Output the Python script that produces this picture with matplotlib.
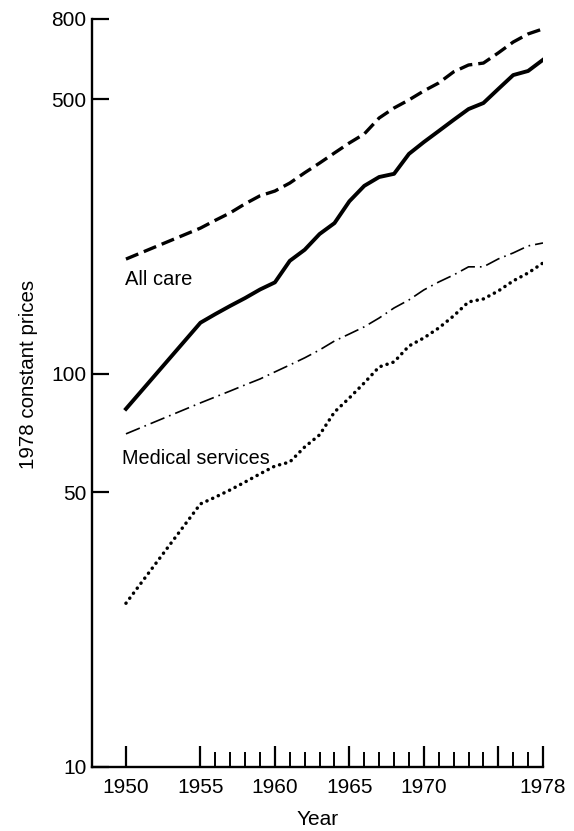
import matplotlib
matplotlib.use("Agg")
import matplotlib.pyplot as plt

plt.rcParams['font.family'] = ['Liberation Sans', 'DejaVu Sans']

years = [1950, 1955, 1956, 1957, 1958, 1959, 1960, 1961, 1962, 1963, 1964,
         1965, 1966, 1967, 1968, 1969, 1970, 1971, 1972, 1973, 1974, 1975,
         1976, 1977, 1978]

all_care_dashed = [196, 235, 246, 257, 271, 284, 292, 306, 325, 344, 365,
                   387, 408, 448, 475, 498, 525, 550, 587, 611, 618, 656,
                   699, 733, 755]
all_care_solid = [81.5, 135, 142, 149, 156, 164, 171, 194, 207, 227, 242,
                  275, 301, 317, 323, 363, 389, 415, 443, 472, 489, 531,
                  576, 590, 630]
medical_dashdot = [70.4, 84.4, 87.4, 90.5, 93.8, 97.1, 101.2, 105.4, 109.9,
                   115.1, 121.3, 126.4, 131.8, 138.8, 147.2, 154.3, 163.6,
                   171.4, 178.6, 187.3, 187.3, 196.2, 203.2, 211.7, 215.4]
medical_dotted = [26.1, 46.7, 48.6, 50.7, 53.1, 55.7, 58.3, 59.7, 65.2, 70.0,
                  80.0, 86.9, 94.9, 104.2, 107.3, 117.8, 123.5, 130.9, 140.5,
                  152.5, 155.2, 162.6, 172.5, 180.7, 191.6]

x_major = [1950, 1955, 1960, 1965, 1970, 1975, 1978]
x_labels = ['1950', '1955', '1960', '1965', '1970', '', '1978']
x_minor = [y for y in range(1956, 1978) if y % 5 != 0]
y_ticks = [10, 50, 100, 500, 800]
y_labels = ['10', '50', '100', '500', '800']

fig = plt.figure(figsize=(5.74, 8.31), dpi=100)
ax = fig.add_axes([92/574, 64/831, 451/574, 748/831])

ax.plot(years, all_care_dashed, color='black', lw=2.4, linestyle=(0, (4, 1.8)),
        dash_capstyle='butt')
ax.plot(years, all_care_solid, color='black', lw=2.8, solid_joinstyle='round')
ax.plot(years, medical_dashdot, color='black', lw=1.2,
        linestyle=(0, (9, 3, 1, 3)))
ax.plot(years, medical_dotted, color='black', lw=2.5,
        linestyle=(0, (0.05, 1.75)), dash_capstyle='round')

ax.set_yscale('log')
ax.set_ylim(10, 800)
ax.set_xlim(1947.72, 1978)

ax.set_yticks(y_ticks)
ax.set_yticklabels(y_labels)
ax.yaxis.set_minor_locator(matplotlib.ticker.NullLocator())
ax.set_xticks(x_major)
ax.set_xticklabels(x_labels)
ax.set_xticks(x_minor, minor=True)

ax.tick_params(axis='y', which='major', direction='in', length=12, width=1.6,
               labelsize=15, pad=4)
ax.tick_params(axis='x', which='major', direction='in', length=15, width=1.6,
               labelsize=15, pad=8)
ax.tick_params(axis='x', which='minor', direction='in', length=11, width=1.4)

for s in ['top', 'right']:
    ax.spines[s].set_visible(False)
for s in ['left', 'bottom']:
    ax.spines[s].set_linewidth(1.7)

ax.set_xlabel('Year', fontsize=15, labelpad=9)
ax.set_ylabel('1978 constant prices', fontsize=14.8)
ax.yaxis.set_label_coords(-0.12, 0.525)

ax.text(1949.93, 174, 'All care', fontsize=14.5, va='center', ha='left')
ax.text(1949.73, 60.8, 'Medical services', fontsize=14.3, va='center', ha='left')

fig.savefig('out.png', dpi=100)
